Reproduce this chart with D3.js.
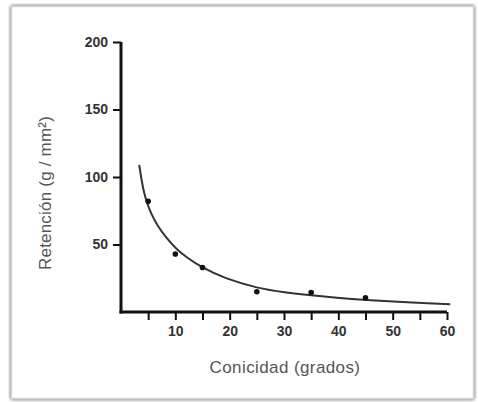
<!DOCTYPE html>
<html>
<head>
<meta charset="utf-8">
<script src="https://cdn.jsdelivr.net/npm/d3@7"></script>
<style>
  body { margin: 0; background: #fff; }
  svg { display: block; }
</style>
</head>
<body>
<div id="chart"></div>
<script>
// Points measured (grados, g/mm2).
var pointX = [5, 10, 15, 25, 35, 45];
var pointY = [82, 43, 33, 15, 14.5, 10.5];

// Fitted curve.
var curveX = [3.35, 3.85, 4.27, 4.7, 5.5, 6.7, 8.4, 10.1, 12.2, 14.9, 19, 25.2, 30.1, 35, 40.2, 45.5, 53.8, 60.6];
var curveY = [109, 96, 88, 82, 73, 64, 54.5, 47, 40, 33, 25, 17.5, 14.5, 12.4, 10.4, 8.7, 7, 5.8];

var xTicks = [5, 10, 15, 20, 25, 30, 35, 40, 45, 50, 55, 60];
var xLabels = [10, 20, 30, 40, 50, 60];
var yTicks = [50, 100, 150, 200];

var W = 478, H = 402;

var svg = d3.select('#chart')
  .append('svg')
  .attr('width', W)
  .attr('height', H);

// Frame with soft shadow.
var filter = svg.append('defs')
  .append('filter')
  .attr('id', 'shadow')
  .attr('x', '-5%').attr('y', '-5%')
  .attr('width', '110%').attr('height', '110%');
filter.append('feGaussianBlur')
  .attr('in', 'SourceAlpha')
  .attr('stdDeviation', 1.5)
  .attr('result', 'blur');
var feMerge = filter.append('feMerge');
feMerge.append('feMergeNode').attr('in', 'blur');
feMerge.append('feMergeNode').attr('in', 'SourceGraphic');

svg.append('rect')
  .attr('x', 11.5)
  .attr('y', 6.5)
  .attr('width', 462)
  .attr('height', 392)
  .style('fill', '#fff')
  .style('stroke', '#d4d4d4')
  .style('stroke-width', 1.5)
  .attr('filter', 'url(#shadow)');

var x = d3.scaleLinear().domain([0, 60]).range([121, 447]);
var y = d3.scaleLinear().domain([0, 200]).range([312, 42]);

var axisColor = '#111';

// Y axis.
var yAxis = svg.append('g')
  .attr('transform', 'translate(' + x(0) + ',0)')
  .call(d3.axisLeft(y).tickValues(yTicks).tickSize(8).tickSizeOuter(0).tickPadding(5));
yAxis.select('.domain')
  .attr('d', 'M0,' + y(200) + 'V' + (y(0) + 1.5))
  .style('stroke', axisColor)
  .style('stroke-width', 3);

// X axis.
var xAxis = svg.append('g')
  .attr('transform', 'translate(0,' + y(0) + ')')
  .call(d3.axisBottom(x).tickValues(xTicks).tickSize(8).tickSizeOuter(0).tickPadding(6)
    .tickFormat(function (d) { return xLabels.indexOf(d) >= 0 ? d : ''; }));
xAxis.select('.domain')
  .attr('d', 'M' + (x(0) - 1.5) + ',0H' + x(60))
  .style('stroke', axisColor)
  .style('stroke-width', 3);

svg.selectAll('.tick line')
  .style('stroke', axisColor)
  .style('stroke-width', 2);
svg.selectAll('.tick text')
  .style('font-family', '"Liberation Sans", Arial, sans-serif')
  .style('font-size', '14px')
  .style('font-weight', 'bold')
  .style('fill', '#333');

// Curve.
var line = d3.line()
  .x(function (d) { return x(d[0]); })
  .y(function (d) { return y(d[1]); })
  .curve(d3.curveBasis);

svg.append('path')
  .datum(d3.zip(curveX, curveY))
  .attr('d', line)
  .style('fill', 'none')
  .style('stroke', '#333')
  .style('stroke-width', 2);

// Points.
svg.selectAll('circle.pt')
  .data(d3.zip(pointX, pointY))
  .enter()
  .append('circle')
  .attr('class', 'pt')
  .attr('cx', function (d) { return x(d[0]); })
  .attr('cy', function (d) { return y(d[1]); })
  .attr('r', 2.8)
  .style('fill', '#111');

// Axis titles.
svg.append('text')
  .attr('x', 285)
  .attr('y', 373)
  .attr('text-anchor', 'middle')
  .style('font-family', '"Liberation Sans", Arial, sans-serif')
  .style('font-size', '17px')
  .style('letter-spacing', '0.4px')
  .style('fill', '#555')
  .text('Conicidad (grados)');

svg.append('text')
  .attr('transform', 'translate(51,193) rotate(-90)')
  .attr('text-anchor', 'middle')
  .style('font-family', '"Liberation Sans", Arial, sans-serif')
  .style('font-size', '17px')
  .style('letter-spacing', '0.2px')
  .style('fill', '#555')
  .text('Retención (g / mm²)');
</script>
</body>
</html>
